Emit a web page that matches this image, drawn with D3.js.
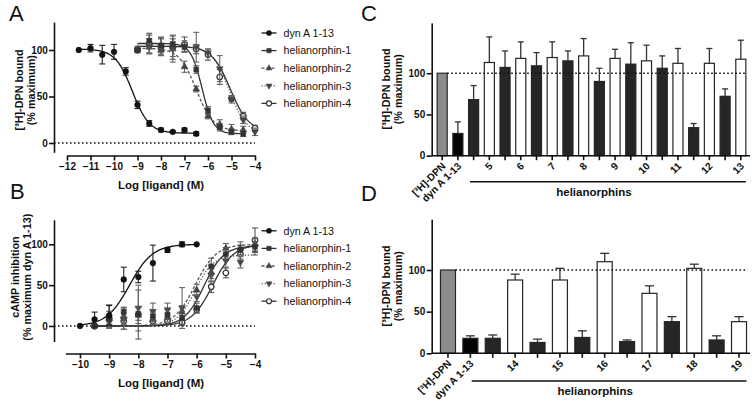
<!DOCTYPE html>
<html><head><meta charset="utf-8">
<script src="https://cdn.jsdelivr.net/npm/d3@7"></script>
<style>
body{margin:0;background:#fff}
svg{display:block;background:#fff}
text{font-family:"Liberation Sans",Arial,sans-serif}
</style></head><body>
<svg id="chart" width="756" height="403"></svg>
<script>
// ---------------- DATA ----------------
const seriesNames = ["dyn A 1-13", "helianorphin-1", "helianorphin-2", "helianorphin-3", "helianorphin-4"];
const xTicksA = [-12, -11, -10, -9, -8, -7, -6, -5, -4];
const xTicksB = [-10, -9, -8, -7, -6, -5, -4];
const yTicks = [0, 50, 100];

// Panel A: [3H]-DPN binding, [log dose, % bound, SEM]
const bindDyn = [[-11.5,100,0],[-11,102,4],[-10.5,95,10],[-10,98,8],[-9.5,77,4],[-9,41,4],[-8.5,21,3],[-8,14,2],[-7.5,12,1],[-7,14,2],[-6.5,10,2]];
const bindH1 = [[-9,100,0],[-8.5,110,8],[-8,105,8],[-7.5,106,6],[-7,103,5],[-6.5,79,4],[-6,35,4],[-5.5,17,4],[-5,12,3],[-4.5,10,3]];
const bindH2 = [[-9,101,3],[-8.5,103,6],[-8,100,5],[-7.5,101,8],[-7,82,6],[-6.5,58,3],[-6,29,3],[-5.5,20,5],[-5,15,5],[-4.5,14,4]];
const bindH3 = [[-9,100,3],[-8.5,104,8],[-8,104,10],[-7.5,101,14],[-7,104,6],[-6.5,103,16],[-6,97,4],[-5.5,80,14],[-5,47,4],[-4.5,25,4],[-4,12,4]];
const bindH4 = [[-9,100,2],[-8.5,106,10],[-8,103,9],[-7.5,103,13],[-7,106,8],[-6.5,101,5],[-6,95,6],[-5.5,71,8],[-5,48,3],[-4.5,29,4],[-4,16,3]];
// fitted curves: [top, bottom, logIC50, hill, from, to]
const bindFits = [[101,10.5,-9.22,-1.2,-11.5,-6.5],[107,10,-6.25,-1.8,-9,-4.5],[102,13,-6.5,-1.2,-9,-4.5],[104,10,-5.1,-1.2,-9,-4],[104,12,-5.05,-1.1,-9,-4]];

// Panel B: cAMP inhibition
const campDyn = [[-10,0,0],[-9.5,8,9],[-9,13,12],[-8.5,57,15],[-8,60,7],[-7.5,77,22],[-7,93,3],[-6.5,100,3],[-6,100,0]];
const campH1 = [[-9.5,0,0],[-9,10,8],[-8.5,17,6],[-8,15,8],[-7.5,12,5],[-7,14,6],[-6.5,10,8],[-6,22,6],[-5.5,73,10],[-5,88,8],[-4.5,93,6],[-4,97,6]];
const campH2 = [[-9.5,0,0],[-9,12,14],[-8.5,12,10],[-8,13,10],[-7.5,8,6],[-7,10,5],[-6.5,17,8],[-6,44,7],[-5.5,66,8],[-5,95,6],[-4.5,95,8],[-4,100,8]];
const campH3 = [[-9.5,0,0],[-9,5,8],[-8.5,8,12],[-8,22,28],[-7.5,18,10],[-7,20,8],[-6.5,22,25],[-6,36,6],[-5.5,62,8],[-5,80,8],[-4.5,78,7],[-4,97,10]];
const campH4 = [[-9.5,0,0],[-9,8,6],[-8.5,6,10],[-8,14,30],[-7.5,6,5],[-7,6,4],[-6.5,4,3],[-6,20,4],[-5.5,48,7],[-5,65,6],[-4.5,88,6],[-4,105,15]];
const campFits = [[100,0,-8.3,1.1,-10,-6],[98,0,-5.75,1.3,-9.5,-4],[100,0,-6.05,1.2,-9.5,-4],[87,0,-6.05,1.4,-9.5,-4],[100,0,-5.45,1.2,-9.5,-4]];

// Panel C
const controlLabels = ["[³H]-DPN", "dyn A 1-13"];
const cControlVals = [100, 27];
const cControlErr = [0, 14];
const cHelianorphins = ["5","6","7","8","9","10","11","12","13"];
const cBlackVals = [68,107,109,115,90,111,106,34,72];
const cBlackErr  = [17,20,16,12,16,26,15,5,9];
const cWhiteVals = [113,118,119,121,118,115,112,112,117];
const cWhiteErr  = [31,20,19,21,11,19,18,18,23];

// Panel D
const dControlVals = [100, 18];
const dControlErr = [0, 3];
const dHelianorphins = ["14","15","16","17","18","19"];
const dBlackVals = [18,13,19,14,38,16];
const dBlackErr  = [4,4,8,2,6,5];
const dWhiteVals = [88,88,110,72,102,38];
const dWhiteErr  = [7,14,10,9,5,6];

// ---------------- DRAWING ----------------
const svg = d3.select("#chart");
const AX = 1.6;
const TICKFONT = "10px";

function fourPL(p, x) {
  const [top, bottom, l50, hill] = p;
  return bottom + (top - bottom) / (1 + Math.pow(10, (l50 - x) * hill));
}

const symTypes = [d3.symbolCircle, d3.symbolSquare, d3.symbolTriangle, d3.symbolTriangle, d3.symbolCircle];
const symSizes = [26, 24, 20, 20, 24];
const symRot = [0, 0, 0, 180, 0];
const symFill = ["#111", "#333", "#444", "#444", "#fff"];
const symStroke = ["#111", "#333", "#444", "#444", "#333"];
const lineColor = ["#111", "#333", "#555", "#555", "#333"];
const lineDash = [null, null, "3,2", "1.2,1.8", null];
const errColor = ["#222", "#555", "#666", "#666", "#555"];

function styleAxis(g) {
  g.attr("font-family", null).attr("font-size", null);
  g.selectAll("path,line").attr("stroke", "#111").attr("stroke-width", AX);
  g.selectAll("text").attr("font-size", TICKFONT).attr("font-weight", "bold").attr("fill", "#111");
}

function panelLetter(txt, x, y) {
  svg.append("text").attr("x", x).attr("y", y).attr("font-size", "22px").attr("fill", "#111").text(txt);
}

// two-line rotated title; each line's ink box is centred on (xc0 + i*gap, yc)
function yTitle(lines, xc0, yc, gap) {
  const svgRect = svg.node().getBoundingClientRect();
  lines.forEach((t, i) => {
    const xc = xc0 + i * gap;
    const el = svg.append("text")
      .attr("transform", `translate(${xc + 3.8},${yc}) rotate(-90)`)
      .attr("text-anchor", "middle")
      .attr("font-size", "10.8px").attr("font-weight", "bold").attr("fill", "#111")
      .text(t);
    const r = el.node().getBoundingClientRect();
    if (r.width > 0) {
      const cx = r.left - svgRect.left + r.width / 2;
      const cy = r.top - svgRect.top + r.height / 2;
      el.attr("transform", `translate(${xc + 3.8 + (xc - cx)},${yc + (yc - cy)}) rotate(-90)`);
    }
  });
}

function curvePanel(cfg) {
  const { x, y, series, fits, yAxisX, xAxisY, xTicks, legendX, legendY, dotted } = cfg;
  svg.append("line").attr("x1", yAxisX).attr("x2", x.range()[1]).attr("y1", y(dotted)).attr("y2", y(dotted))
    .attr("stroke", "#111").attr("stroke-width", 1.5).attr("stroke-dasharray", "1.6,2.4");
  const gy = svg.append("g").attr("transform", `translate(${yAxisX},0)`)
    .call(d3.axisLeft(y).tickValues(yTicks).tickSize(5).tickSizeOuter(0).tickPadding(1.2).tickFormat(d3.format("d")));
  styleAxis(gy);
  const gx = svg.append("g").attr("transform", `translate(0,${xAxisY})`)
    .call(d3.axisBottom(x).tickValues(xTicks).tickSize(5).tickSizeOuter(0).tickPadding(2.5).tickFormat(d3.format("d")));
  styleAxis(gx);
  const line = d3.line().x(d => x(d[0])).y(d => y(d[1]));
  fits.forEach((p, i) => {
    const pts = d3.range(0, 121).map(k => { const xv = p[4] + (p[5] - p[4]) * k / 120; return [xv, fourPL(p, xv)]; });
    svg.append("path").attr("d", line(pts)).attr("fill", "none")
      .attr("stroke", lineColor[i]).attr("stroke-width", 1.3)
      .attr("stroke-dasharray", lineDash[i]);
  });
  const order = [4, 3, 2, 1, 0];
  order.forEach(i => {
    const g = svg.append("g");
    series[i].forEach(d => {
      if (d[2] > 0) {
        const xx = x(d[0]);
        g.append("line").attr("x1", xx).attr("x2", xx).attr("y1", y(d[1] - d[2])).attr("y2", y(d[1] + d[2]))
          .attr("stroke", errColor[i]).attr("stroke-width", 1.1);
        [d[1] - d[2], d[1] + d[2]].forEach(v => g.append("line").attr("x1", xx - 3).attr("x2", xx + 3)
          .attr("y1", y(v)).attr("y2", y(v)).attr("stroke", errColor[i]).attr("stroke-width", 1.1));
      }
    });
    series[i].forEach(d => {
      g.append("path").attr("d", d3.symbol().type(symTypes[i]).size(symSizes[i])())
        .attr("transform", `translate(${x(d[0])},${y(d[1])}) rotate(${symRot[i]})`)
        .attr("fill", symFill[i]).attr("stroke", symStroke[i]).attr("stroke-width", i === 4 ? 1.3 : 0.5);
    });
  });
  seriesNames.forEach((name, i) => {
    const ly = legendY + i * 17.6;
    const g = svg.append("g");
    g.append("line").attr("x1", legendX).attr("x2", legendX + 15).attr("y1", ly).attr("y2", ly)
      .attr("stroke", lineColor[i]).attr("stroke-width", 1.3).attr("stroke-dasharray", lineDash[i]);
    g.append("path").attr("d", d3.symbol().type(symTypes[i]).size(symSizes[i] * 0.8)())
      .attr("transform", `translate(${legendX + 7.5},${ly}) rotate(${symRot[i]})`)
      .attr("fill", symFill[i]).attr("stroke", symStroke[i]).attr("stroke-width", i === 4 ? 1.2 : 0.5);
    g.append("text").attr("x", legendX + 22).attr("y", ly + 3.8)
      .attr("font-size", "10.7px").attr("fill", "#111").text(name);
  });
}

// ---- Panel A ----
const xA = d3.scaleLinear().domain([-12, -4]).range([67, 255]);
const yA = d3.scaleLinear().domain([-10, 130]).range([152.3, 22.1]);
curvePanel({ x: xA, y: yA, series: [bindDyn, bindH1, bindH2, bindH3, bindH4], fits: bindFits,
  yAxisX: 54, xAxisY: 155.5, xTicks: xTicksA, legendX: 261.5, legendY: 33, dotted: 0 });
svg.append("text").attr("x", 161).attr("y", 189).attr("text-anchor", "middle")
  .attr("font-size", "11.5px").attr("font-weight", "bold").attr("fill", "#111").text("Log [ligand] (M)");
yTitle(["[³H]-DPN bound", "(% maximum)"], 19, 90, 12);
panelLetter("A", 9, 21);

// ---- Panel B ----
const xB = d3.scaleLinear().domain([-10.5, -4]).range([65.4, 255]);
const yB = d3.scaleLinear().domain([-19, 130]).range([341.5, 219.8]);
curvePanel({ x: xB, y: yB, series: [campDyn, campH1, campH2, campH3, campH4], fits: campFits,
  yAxisX: 54, xAxisY: 353.5, xTicks: xTicksB, legendX: 261.5, legendY: 230.8, dotted: 0 });
svg.append("text").attr("x", 161).attr("y", 387).attr("text-anchor", "middle")
  .attr("font-size", "11.5px").attr("font-weight", "bold").attr("fill", "#111").text("Log [ligand] (M)");
yTitle(["cAMP inhibition", "(% maximum dyn A 1-13)"], 15, 277, 11.5);
panelLetter("B", 10, 199);

// ---- Bar panels ----
function barPanel(cfg) {
  const { y, range, axisX, axisEnd, helis, cVals, cErr, bVals, bErr, wVals, wErr, titleY, lineY, lineX0, padInner, padOuter } = cfg;
  const cats = [...controlLabels];
  helis.forEach(h => { cats.push(h + "-a"); cats.push(h + "-b"); });
  const x = d3.scaleBand().domain(cats).range(range).paddingInner(padInner).paddingOuter(padOuter);
  const bw = x.bandwidth();
  const y0 = y(0);
  const bars = [];
  controlLabels.forEach((c, i) => bars.push({ k: c, v: cVals[i], e: cErr[i], fill: i === 0 ? "#8c8c8c" : "#050505" }));
  helis.forEach((h, i) => {
    bars.push({ k: h + "-a", v: bVals[i], e: bErr[i], fill: "#262626" });
    bars.push({ k: h + "-b", v: wVals[i], e: wErr[i], fill: "#ffffff" });
  });
  bars.forEach(b => {
    if (b.e > 0) {
      const cx = x(b.k) + bw / 2;
      svg.append("line").attr("x1", cx).attr("x2", cx).attr("y1", y(b.v)).attr("y2", y(b.v + b.e))
        .attr("stroke", "#333").attr("stroke-width", 1.3);
      svg.append("line").attr("x1", cx - bw * 0.3).attr("x2", cx + bw * 0.3).attr("y1", y(b.v + b.e)).attr("y2", y(b.v + b.e))
        .attr("stroke", "#333").attr("stroke-width", 1.3);
    }
  });
  bars.forEach(b => {
    svg.append("rect").attr("x", x(b.k)).attr("y", y(b.v)).attr("width", bw).attr("height", y0 - y(b.v))
      .attr("fill", b.fill).attr("stroke", "#262626").attr("stroke-width", 1.2);
  });
  svg.append("line").attr("x1", x(controlLabels[0]) + bw).attr("x2", axisEnd - 4).attr("y1", y(100)).attr("y2", y(100))
    .attr("stroke", "#111").attr("stroke-width", 1.5).attr("stroke-dasharray", "1.6,2.4");
  const gy = svg.append("g").attr("transform", `translate(${axisX},0)`)
    .call(d3.axisLeft(y).tickValues(yTicks).tickSize(5).tickSizeOuter(0).tickPadding(1.5));
  styleAxis(gy);
  svg.append("line").attr("x1", axisX).attr("x2", axisEnd).attr("y1", y0).attr("y2", y0)
    .attr("stroke", "#111").attr("stroke-width", AX);
  cats.forEach(c => {
    const cx = x(c) + bw / 2;
    svg.append("line").attr("x1", cx).attr("x2", cx).attr("y1", y0).attr("y2", y0 + 4.5)
      .attr("stroke", "#111").attr("stroke-width", AX);
  });
  const labelled = [...controlLabels.map(c => [c, c]), ...helis.map(h => [h + "-b", h])];
  labelled.forEach(([k, t]) => {
    const cx = x(k) + bw / 2;
    svg.append("text").attr("transform", `translate(${cx + 4},${y0 + 11}) rotate(-45)`)
      .attr("text-anchor", "end").attr("font-size", "10.2px").attr("font-weight", "bold").attr("fill", "#111").text(t);
  });
  const gx0 = lineX0, gx1 = x(helis[helis.length - 1] + "-b") + bw;
  svg.append("line").attr("x1", gx0).attr("x2", gx1).attr("y1", lineY).attr("y2", lineY).attr("stroke", "#111").attr("stroke-width", 1.5);
  svg.append("text").attr("x", (gx0 + gx1) / 2 - 14).attr("y", lineY + 14).attr("text-anchor", "middle")
    .attr("font-size", "11.5px").attr("font-weight", "bold").attr("fill", "#111").text("helianorphins");
  yTitle(["[³H]-DPN bound", "(% maximum)"], 386, titleY, 11.6);
}

const yC = d3.scaleLinear().domain([0, 161]).range([155.7, 22.9]);
barPanel({ y: yC, range: [434, 749], axisX: 431.7, axisEnd: 750, helis: cHelianorphins,
  cVals: cControlVals, cErr: cControlErr, bVals: cBlackVals, bErr: cBlackErr, wVals: cWhiteVals, wErr: cWhiteErr,
  titleY: 89, lineY: 181.7, lineX0: 470, padInner: 0.36, padOuter: 0.2 });
panelLetter("C", 361, 20.5);

const yD = d3.scaleLinear().domain([0, 161]).range([353.3, 219.2]);
barPanel({ y: yD, range: [436, 751], axisX: 431.7, axisEnd: 750, helis: dHelianorphins,
  cVals: dControlVals, cErr: dControlErr, bVals: dBlackVals, bErr: dBlackErr, wVals: dWhiteVals, wErr: dWhiteErr,
  titleY: 286, lineY: 381, lineX0: 471.7, padInner: 0.33, padOuter: 0.2 });
panelLetter("D", 361, 201);
</script>
</body></html>
